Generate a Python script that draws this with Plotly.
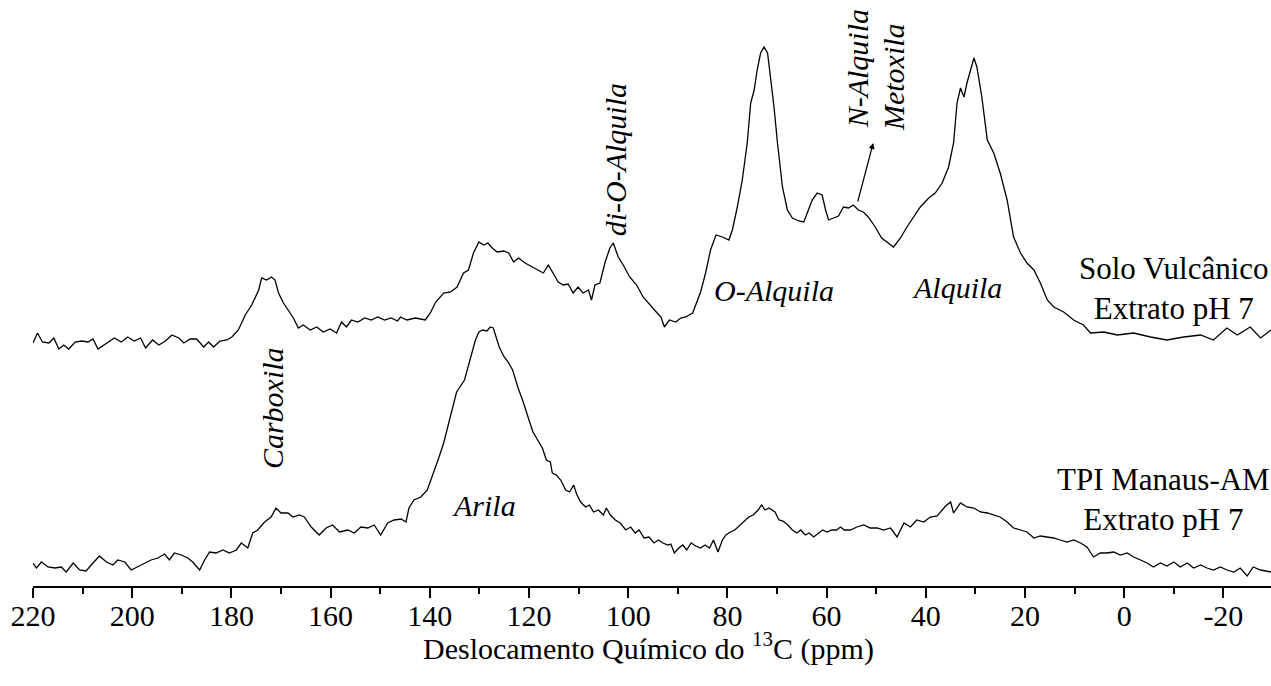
import plotly.graph_objects as go

# ---- data: chemical shift (ppm) and baseline-relative intensity (a.u.) ----
ppm_solo = [220.0, 219.1, 218.1, 216.8, 215.8, 214.8, 213.8, 212.8, 211.5, 210.2, 208.9, 207.9, 206.9, 205.2,
            203.6, 202.2, 200.9, 199.6, 198.3, 197.3, 195.9, 194.6, 193.3, 192.0, 190.6, 189.6, 188.3, 187.0,
            185.6, 184.6, 183.6, 182.3, 180.9, 179.9, 178.6, 177.2, 175.9, 174.5, 173.9, 172.9, 171.9, 171.2,
            170.5, 169.5, 168.5, 167.5, 166.5, 165.5, 164.1, 162.8, 161.5, 160.1, 158.8, 157.8, 156.8, 155.8,
            154.5, 153.1, 151.8, 150.5, 149.1, 147.8, 146.5, 145.9, 144.6, 142.9, 140.9, 139.9, 138.8, 137.2,
            135.8, 134.5, 133.2, 132.2, 131.2, 130.1, 129.1, 128.3, 127.4, 126.4, 125.1, 124.1, 123.1, 122.1,
            120.8, 119.4, 118.1, 117.1, 116.1, 115.1, 114.1, 113.1, 112.1, 111.1, 110.1, 109.1, 108.0, 107.4,
            106.7, 105.7, 104.7, 103.7, 103.0, 102.0, 101.0, 99.7, 98.3, 97.0, 96.0, 94.7, 93.4, 92.7, 91.7,
            90.4, 89.4, 88.4, 87.0, 86.0, 85.4, 84.4, 83.4, 82.3, 81.0, 79.7, 79.0, 78.0, 77.0, 76.0, 75.3,
            74.6, 74.0, 73.3, 72.6, 71.9, 71.3, 70.6, 69.9, 68.9, 67.9, 66.9, 65.6, 64.6, 63.9, 62.9, 61.9,
            60.9, 60.2, 59.6, 58.6, 57.6, 56.6, 55.6, 54.6, 53.6, 52.6, 51.6, 50.2, 48.9, 46.5, 45.1, 43.8,
            42.4, 41.1, 39.4, 38.1, 36.7, 35.4, 34.4, 33.7, 33.0, 32.3, 31.7, 31.0, 30.3, 29.7, 28.7, 27.6,
            26.3, 25.0, 23.6, 22.3, 20.9, 19.6, 18.2, 16.9, 15.5, 14.2, 12.2, 10.2, 8.2, 6.8, 4.1, 1.4,
            -1.9, -5.3, -8.6, -12.0, -15.4, -18.0, -20.7, -22.8, -25.4, -27.5, -29.6]
int_solo = [-2, 8, -1, -2, 3, -8, -4, -8, -1, 0, -1, 2, -8, -2,
            3, -1, 4, 0, 3, -7, 1, -4, 0, 6, 3, -2, 2, 2,
            -6, -1, -6, 0, 1, 4, 11, 26, 36, 51, 63, 61, 64, 61,
            48, 38, 31, 23, 13, 16, 11, 14, 9, 12, 8, 19, 14, 21,
            19, 23, 21, 24, 21, 23, 20, 24, 21, 23, 21, 28, 39, 48,
            49, 54, 68, 71, 88, 99, 96, 98, 93, 89, 90, 88, 79, 83,
            78, 74, 71, 68, 76, 68, 59, 56, 57, 48, 54, 48, 51, 41,
            56, 58, 78, 93, 98, 84, 76, 64, 56, 44, 38, 31, 24, 14, 21,
            19, 23, 24, 28, 41, 49, 68, 91, 106, 104, 101, 111, 134, 161, 198, 238,
            251, 271, 288, 294, 288, 264, 234, 198, 154, 131, 123, 120, 119, 128, 141, 148,
            146, 131, 121, 123, 125, 134, 133, 136, 131, 129, 124, 114, 103, 94, 103, 114,
            124, 134, 143, 148, 158, 174, 198, 238, 253, 244, 258, 271, 283, 274, 244, 201,
            188, 168, 141, 104, 88, 78, 71, 58, 41, 34, 29, 21, 16, 8, 9, 6,
            8, 4, 1, 4, 6, 1, 13, 6, 14, 3, 11]

ppm_tpi = [220.0, 219.3, 218.3, 217.0, 215.6, 214.3, 213.3, 211.9, 210.6, 209.3, 207.9, 206.6, 205.2, 203.9,
           202.9, 201.5, 200.2, 198.9, 197.5, 196.2, 194.8, 193.5, 192.5, 191.5, 190.1, 188.8, 187.8, 186.4,
           185.4, 184.4, 183.1, 181.7, 180.4, 179.0, 178.0, 176.7, 175.7, 174.7, 173.3, 172.0, 171.0, 170.0,
           168.6, 167.6, 166.3, 165.3, 163.9, 162.3, 160.9, 159.6, 158.2, 156.5, 155.2, 153.9, 152.5, 151.2,
           149.9, 148.5, 147.2, 145.8, 144.8, 144.2, 143.2, 141.8, 140.5, 139.2, 138.2, 137.2, 136.4, 135.6,
           134.6, 133.0, 132.3, 131.6, 130.8, 130.1, 129.3, 128.5, 127.8, 127.2, 126.5, 126.0, 125.0, 124.2,
           123.3, 122.2, 121.3, 120.8, 120.0, 119.2, 118.2, 117.3, 116.5, 115.7, 115.3, 114.5, 113.6, 112.6,
           111.8, 111.0, 110.4, 109.6, 108.6, 107.8, 107.0, 106.0, 105.0, 104.4, 103.6, 102.6, 101.6, 100.5,
           99.5, 98.6, 97.8, 96.8, 95.8, 94.8, 93.9, 93.0, 92.0, 91.4, 90.7, 89.8, 89.0, 88.2, 87.3, 86.4,
           85.4, 84.5, 83.6, 82.8, 81.9, 81.0, 80.3, 79.4, 78.5, 77.5, 76.5, 75.7, 74.8, 73.8, 73.1, 72.4,
           71.6, 70.4, 69.6, 68.8, 67.8, 66.9, 66.0, 65.2, 64.3, 63.5, 62.6, 61.7, 60.8, 59.9, 59.0, 58.0,
           57.2, 56.4, 55.2, 53.9, 52.5, 51.2, 49.8, 48.5, 47.1, 45.8, 44.4, 43.1, 41.8, 40.4, 39.1, 37.7,
           36.0, 35.0, 34.4, 33.0, 31.7, 30.3, 29.0, 27.6, 26.3, 25.0, 23.6, 22.3, 20.9, 19.6, 18.2, 16.9,
           15.6, 14.2, 12.9, 11.5, 10.2, 8.8, 7.5, 6.2, 4.8, 3.5, 2.1, 0.8, -0.6, -1.9, -3.3, -4.6,
           -5.9, -7.3, -8.6, -10.0, -11.3, -12.7, -14.0, -15.4, -16.7, -18.0, -19.4, -20.7, -22.1, -23.4,
           -24.8, -26.0, -27.5, -29.6]
int_tpi = [3, -2, 4, -1, -2, -1, -6, 3, -4, -5, 3, 10, 4, 1,
           6, 4, -4, -1, 3, 6, 8, 12, 6, 13, 11, 8, 4, -4,
           6, 14, 13, 16, 13, 16, 23, 18, 33, 36, 44, 49, 58, 53,
           53, 49, 51, 49, 39, 31, 38, 41, 34, 36, 33, 39, 38, 41,
           31, 43, 46, 47, 44, 58, 66, 69, 76, 93, 108, 123, 138, 153,
           174, 186, 199, 213, 226, 234, 236, 235, 239, 238, 228, 219, 209, 204,
           196, 178, 166, 159, 146, 134, 126, 118, 106, 104, 93, 91, 86, 76,
           74, 81, 72, 64, 59, 61, 54, 56, 51, 58, 51, 46, 43, 36,
           39, 33, 36, 28, 29, 23, 26, 23, 21, 22, 13, 18, 21, 16, 23, 20,
           18, 21, 18, 26, 14, 26, 31, 34, 36, 41, 46, 49, 51, 56, 61, 56,
           58, 54, 46, 45, 41, 36, 33, 36, 31, 33, 29, 33, 36, 34, 36, 36,
           39, 36, 36, 39, 41, 38, 38, 36, 38, 29, 43, 39, 46, 44, 49, 50,
           60, 64, 53, 63, 59, 58, 54, 53, 51, 49, 44, 38, 36, 34, 28, 30,
           29, 28, 26, 24, 26, 23, 19, 9, 13, 13, 14, 11, 13, 9, 6, 3,
           -1, 3, 0, 4, -1, 3, -2, 1, -2, -4, -1, -4, -6, -2,
           -10, -1, -4, -6]

# stacking offsets (a.u.)
offset_solo = 245
offset_tpi = 20

tick_vals = [220, 200, 180, 160, 140, 120, 100, 80, 60, 40, 20, 0, -20]
tick_text = ["220", "200", "180", "160", "140", "120", "100", "80", "60", "40", "20", "0", "-20"]

FONT = "'Liberation Serif', 'Times New Roman', Times, serif"

fig = go.Figure()
fig.add_trace(go.Scatter(x=ppm_solo, y=[v + offset_solo for v in int_solo], mode="lines",
                         line=dict(color="black", width=1.3), showlegend=False, hoverinfo="skip"))
fig.add_trace(go.Scatter(x=ppm_tpi, y=[v + offset_tpi for v in int_tpi], mode="lines",
                         line=dict(color="black", width=1.3), showlegend=False, hoverinfo="skip"))

fig.update_layout(
    width=1271, height=686,
    margin=dict(l=33, r=0, t=0, b=100),
    paper_bgcolor="white", plot_bgcolor="white",
    font=dict(family=FONT, color="black", size=30),
    xaxis=dict(range=[220, -29.6], showline=True, linecolor="black", linewidth=1.5,
               ticks="outside", ticklen=10, tickwidth=1.5, tickcolor="black",
               tickmode="array", tickvals=tick_vals, ticktext=tick_text,
               tickfont=dict(family=FONT, size=30, color="black"),
               ticklabelstandoff=-8,
               minor=dict(tickmode="linear", tick0=0, dtick=10, ticks="outside", ticklen=6,
                          tickwidth=1.5, tickcolor="black", showgrid=False),
               showgrid=False, zeroline=False),
    yaxis=dict(range=[0, 586], visible=False, showgrid=False, zeroline=False),
)

it = dict(family=FONT, size=30, color="black")
ann = [
    dict(text="<i>Carboxila</i>", x=171.8, y=178, textangle=-90),
    dict(text="<i>di-O-Alquila</i>", x=102.6, y=426, textangle=-90),
    dict(text="<i>N-Alquila</i>", x=53.8, y=517, textangle=-90),
    dict(text="<i>Metoxila</i>", x=46.6, y=509, textangle=-90),
    dict(text="<i>O-Alquila</i>", x=70.7, y=296),
    dict(text="<i>Alquila</i>", x=33.8, y=299),
    dict(text="<i>Arila</i>", x=129.0, y=81),
]
for a in ann:
    fig.add_annotation(xref="x", yref="y", showarrow=False, font=it, **a)

fig.add_annotation(xref="x", yref="y", x=-10.0, y=298, text="Solo Vulcânico<br>Extrato pH 7",
                   showarrow=False, align="center", font=dict(family=FONT, size=31, color="black"))
fig.add_annotation(xref="x", yref="y", x=-8.0, y=87, text="TPI Manaus-AM<br>Extrato pH 7",
                   showarrow=False, align="center", font=dict(family=FONT, size=31, color="black"))

# arrow pointing to N-Alquila / Metoxila
fig.add_annotation(xref="x", yref="y", x=50.6, y=443, axref="x", ayref="y", ax=53.8, ay=383,
                   text="", showarrow=True, arrowhead=2, arrowsize=1, arrowwidth=1.2, arrowcolor="black")

# axis title (centre ~650 px from top)
fig.add_annotation(xref="paper", yref="paper", x=0.497, y=-(647 - 586) / 586, yanchor="middle",
                   text="Deslocamento Químico do <sup>13</sup>C (ppm)", showarrow=False,
                   font=dict(family=FONT, size=30, color="black"))

# remove the browser's default 8px page margin so the figure fills the window exactly
fig.write_html("out.html", config={"displayModeBar": False},
               post_script="document.body.style.margin='0';document.body.style.overflow='hidden';")
